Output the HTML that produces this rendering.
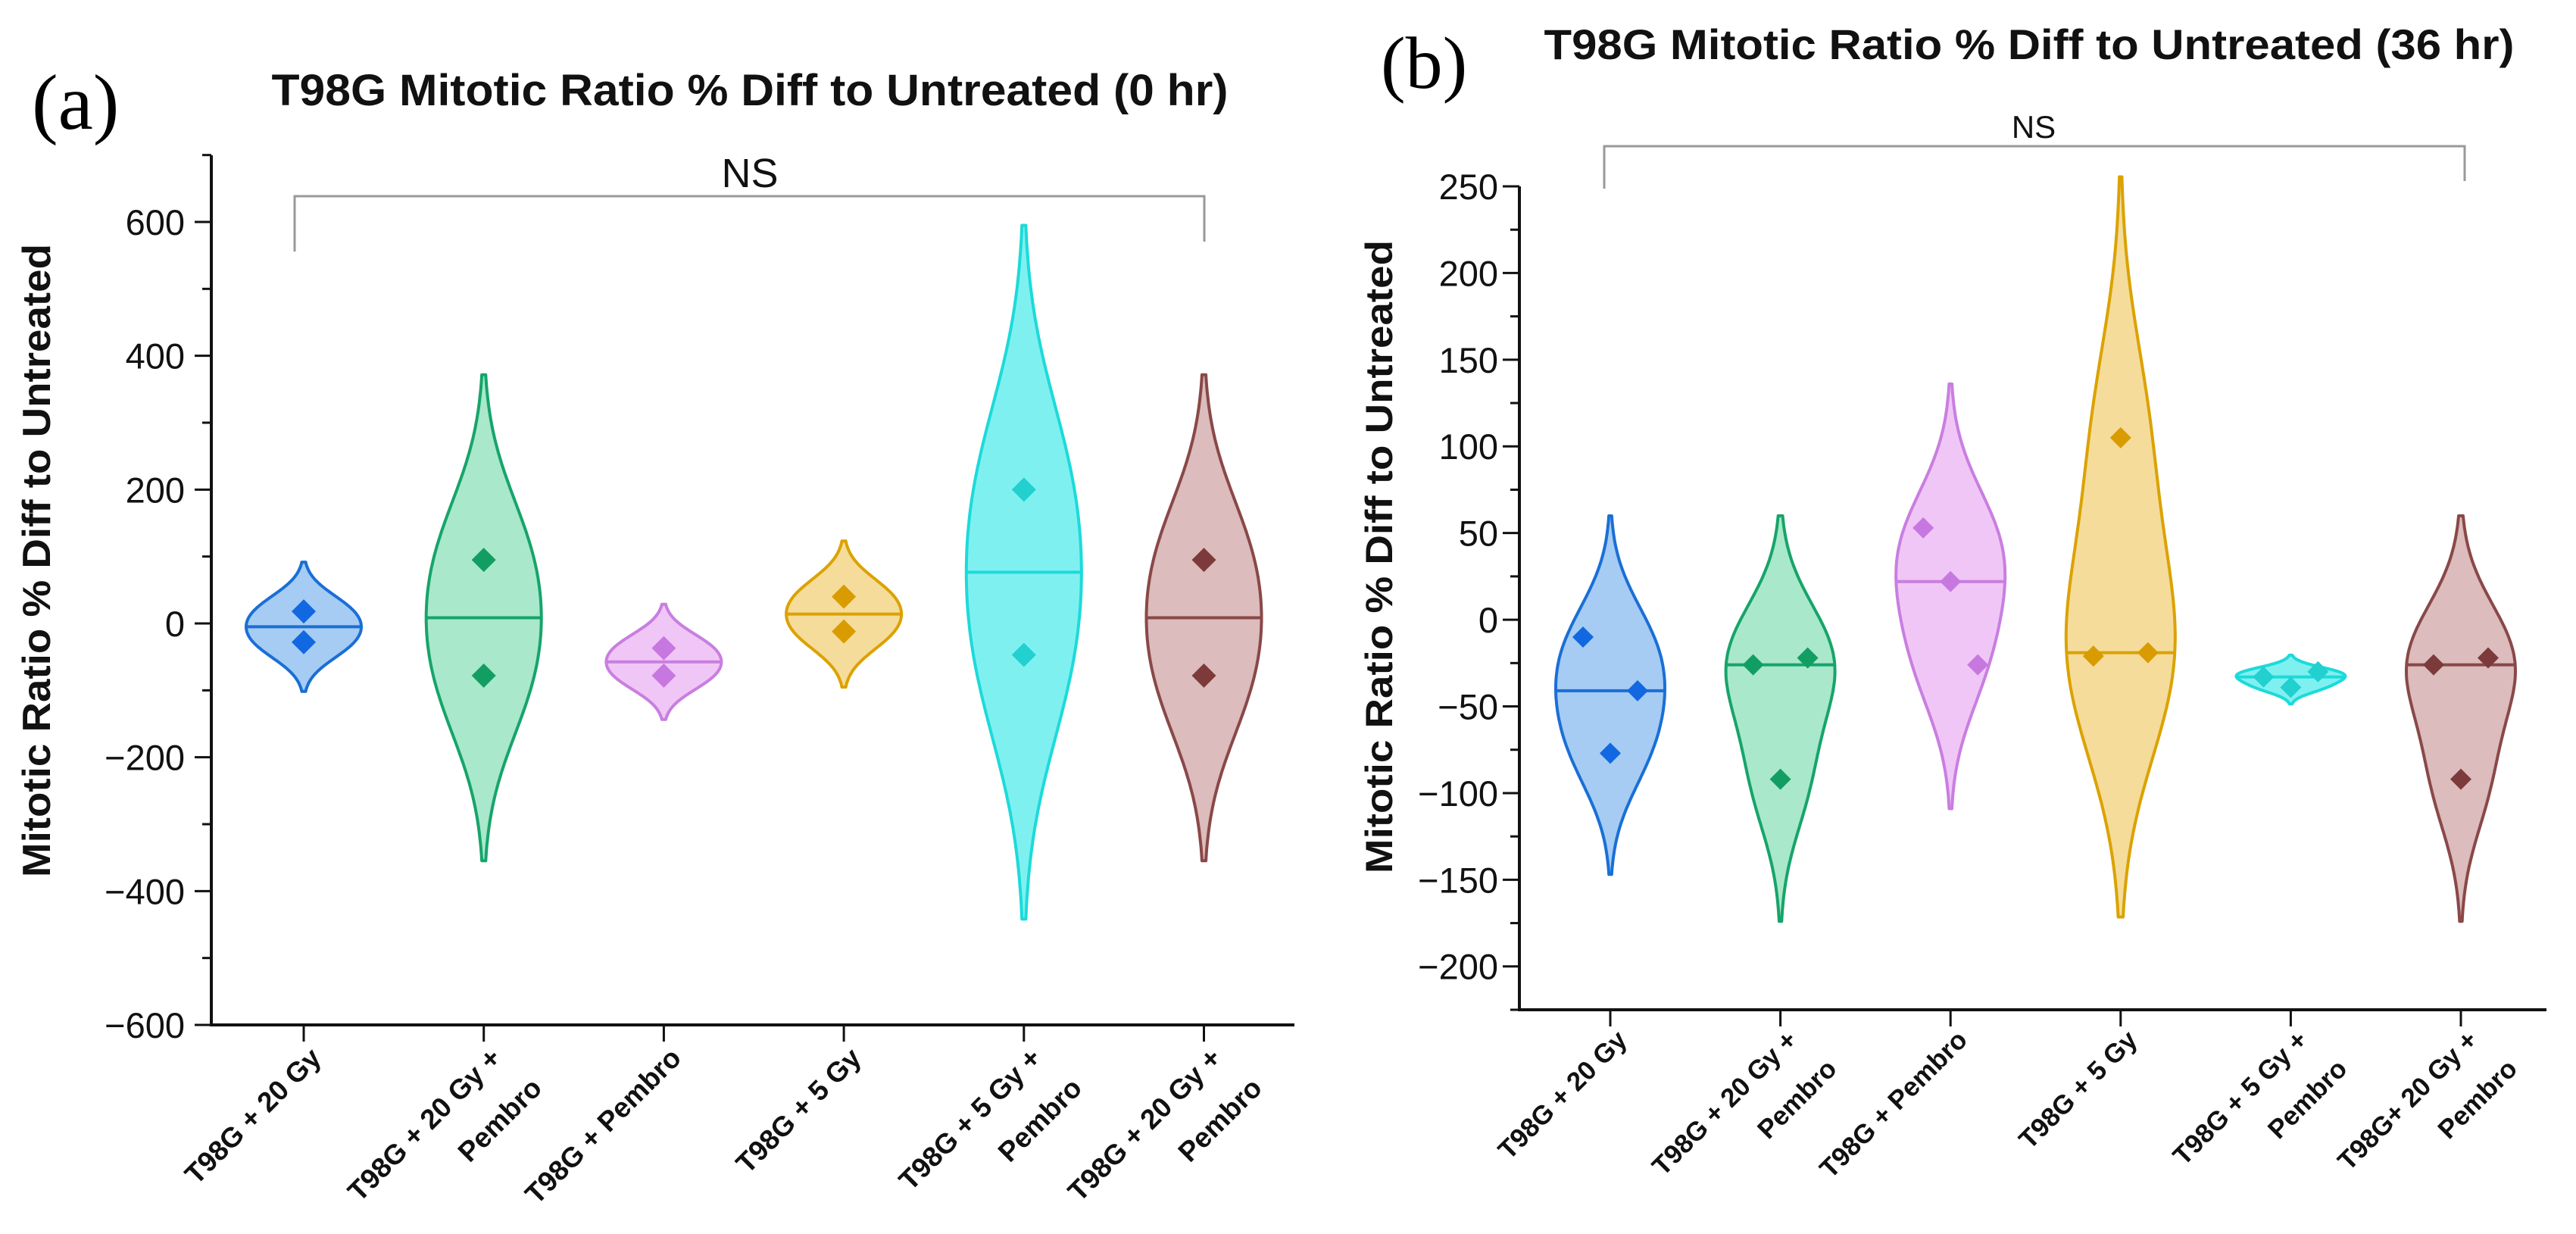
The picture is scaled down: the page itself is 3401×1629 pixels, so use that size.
<!DOCTYPE html>
<html><head><meta charset="utf-8"><style>
html,body{margin:0;padding:0;background:#fff;}
svg{display:block;font-family:"Liberation Sans",Arial,sans-serif;}
</style></head><body>
<svg id="chart" width="3401" height="1629" viewBox="0 0 3401 1629" xmlns="http://www.w3.org/2000/svg">
<rect width="3401" height="1629" fill="#fff"/>
<g id="pa"></g>
<g id="pb"></g>
</svg>
<script>
const categoriesA = [["T98G + 20 Gy"],["T98G + 20 Gy +","Pembro"],["T98G + Pembro"],["T98G + 5 Gy"],["T98G + 5 Gy +","Pembro"],["T98G + 20 Gy +","Pembro"]];
const categoriesB = [["T98G + 20 Gy"],["T98G + 20 Gy +","Pembro"],["T98G + Pembro"],["T98G + 5 Gy"],["T98G + 5 Gy +","Pembro"],["T98G+ 20 Gy +","Pembro"]];
const pointsA = [[18,-28],[95,-78],[-37,-78],[40,-12],[200,-47],[95,-78]];
const pointsB = [[-10,-77,-41],[-26,-92,-22],[53,22,-26],[-21,105,-19],[-33,-39,-30],[-26,-92,-22]];
const ticksA = [600,400,200,0,-200,-400,-600];
const ticksB = [250,200,150,100,50,0,-50,-100,-150,-200];
const strokeCols = ["#1a6fd6","#17a46a","#c97ee0","#dba200","#1cdada","#8a4848"];
const fillCols = ["#a6ccf4","#a9e8cb","#f0c6f6","#f5dc9b","#7ff0f0","#dcbcbc"];
const markCols = ["#1168e0","#129e62","#c778e0","#d99c00","#22d0d0","#7c3a3a"];
const NS="http://www.w3.org/2000/svg";
function mk(parent,tag,attrs,text){const e=document.createElementNS(NS,tag);for(const k in attrs)e.setAttribute(k,attrs[k]);if(text!==undefined)e.textContent=text;parent.appendChild(e);return e;}

function panel(g,cfg){
  const yS=v=>cfg.y0+(v-cfg.vTop)*(cfg.y1-cfg.y0)/(cfg.vBot-cfg.vTop);
  const xS=i=>cfg.cx0+i*cfg.step;
  const t=mk(g,'text',{x:cfg.titleX,y:cfg.titleY,'text-anchor':'middle','font-size':cfg.titleFs,'font-weight':'bold',fill:'#111',textLength:cfg.titleLen,lengthAdjust:'spacingAndGlyphs'},cfg.title);
  
  const pl=mk(g,'text',{x:cfg.lblX,y:cfg.lblY,'font-size':cfg.lblFs,'font-family':'Liberation Serif,serif',fill:'#000'},cfg.lbl);
  
  const yl=mk(g,'text',{x:0,y:0,transform:`translate(${cfg.ylX},${cfg.ylY}) rotate(-90)`,'text-anchor':'middle','font-size':cfg.ylFs,'font-weight':'bold',fill:'#111',textLength:836,lengthAdjust:'spacingAndGlyphs'},'Mitotic Ratio % Diff to Untreated');
  
  const ax=mk(g,'g',{});
  mk(ax,'line',{x1:cfg.ax,y1:cfg.axTop,x2:cfg.ax,y2:cfg.y1+2,stroke:'#111','stroke-width':4});
  mk(ax,'line',{x1:cfg.ax-2,y1:cfg.y1,x2:cfg.axRight,y2:cfg.y1,stroke:'#111','stroke-width':4});
  for(let v=cfg.vBot;v<=cfg.axTopV+0.001;v+=cfg.minor){
    const major=cfg.ticks.includes(Math.round(v));
    mk(ax,'line',{x1:cfg.ax-(major?22:12),y1:yS(v),x2:cfg.ax,y2:yS(v),stroke:'#111','stroke-width':3});
  }
  cfg.ticks.forEach(v=>{
    const tl=mk(g,'text',{x:cfg.tickR,y:yS(v)+cfg.tickFs*0.36,'text-anchor':'end','font-size':cfg.tickFs,fill:'#111'},String(v).replace('-','\u2212'));
    
  });
  cfg.cats.forEach((c,i)=>{
    const x=xS(i);
    mk(ax,'line',{x1:x,y1:cfg.y1,x2:x,y2:cfg.y1+22,stroke:'#111','stroke-width':3});
    const lg=mk(g,'g',{transform:`translate(${x+cfg.xlOff},${cfg.y1+cfg.xlDy}) rotate(-45)`});
    
    c.forEach((line,j)=>mk(lg,'text',{x:j*10,y:j*cfg.xlGap,'text-anchor':'end','font-size':cfg.xlFs,'font-weight':'bold',fill:'#111'},line));
  });
  const br=mk(g,'g',{});
  mk(br,'path',{d:`M${cfg.brX0},${cfg.brL} V${cfg.brY} H${cfg.brX1} V${cfg.brR}`,fill:'none',stroke:'#999','stroke-width':3});
  mk(br,'text',{x:cfg.nsX,y:cfg.nsY,'text-anchor':'middle','font-size':cfg.nsFs,fill:'#111'},'NS');
  cfg.pts.forEach((pts,i)=>{
    const n=pts.length, mean=pts.reduce((a,b)=>a+b,0)/n;
    const sd=Math.sqrt(pts.reduce((a,b)=>a+(b-mean)*(b-mean),0)/(n-1));
    const bw=1.06*sd*Math.pow(n,-0.2);
    const lo=Math.min(...pts)-2.45*bw, hi=Math.max(...pts)+2.45*bw;
    const dens=v=>pts.reduce((a,p)=>a+Math.exp(-0.5*((v-p)/bw)**2),0);
    const N=120;let samples=[];let mx=0;
    for(let k=0;k<=N;k++){const v=lo+(hi-lo)*k/N;const d=dens(v);samples.push([v,d]);if(d>mx)mx=d;}
    const cx=xS(i);
    let right=samples.map(([v,d])=>`${(cx+d/mx*cfg.halfW).toFixed(1)},${yS(v).toFixed(1)}`);
    let left=samples.slice().reverse().map(([v,d])=>`${(cx-d/mx*cfg.halfW).toFixed(1)},${yS(v).toFixed(1)}`);
    const vg=mk(g,'g',{});
    mk(vg,'path',{d:'M'+right.join(' L')+' L'+left.join(' L')+'Z',fill:fillCols[i],stroke:strokeCols[i],'stroke-width':4,'stroke-linejoin':'round'});
    const s=pts.slice().sort((a,b)=>a-b);
    const med=n%2?s[(n-1)/2]:(s[n/2-1]+s[n/2])/2;
    const w=dens(med)/mx*cfg.halfW;
    const ml=mk(vg,'line',{x1:cx-w,y1:yS(med),x2:cx+w,y2:yS(med),stroke:strokeCols[i],'stroke-width':4});
    
    pts.forEach((p,j)=>{
      const ox=n===3?[-1,0,1][j]*cfg.jit:0;
      const px=cx+ox, py=yS(p), r=cfg.mr;
      const d=mk(vg,'path',{d:`M${px},${py-r} L${px+r},${py} L${px},${py+r} L${px-r},${py}Z`,fill:markCols[i]});
      
    });
  });
}
panel(document.getElementById('pa'),{
  title:'T98G Mitotic Ratio % Diff to Untreated (0 hr)',titleX:990,titleY:139,titleFs:58,titleLen:1263,
  lbl:'(a)',lblX:42,lblY:170,lblFs:104,ylX:66,ylY:740,ylFs:52,
  vTop:600,vBot:-600,y0:293,y1:1353,axTop:205,axTopV:700,ax:279,axRight:1709,minor:100,
  ticks:ticksA,tickR:244,tickFs:47,cats:categoriesA,cx0:401,step:237.7,
  xlOff:25,xlDy:46,xlGap:66,xlFs:37,brX0:389,brX1:1590,brY:259,brL:332,brR:319,nsX:990,nsY:247,nsFs:54,
  pts:pointsA,halfW:76,jit:36,mr:16
});
panel(document.getElementById('pb'),{
  title:'T98G Mitotic Ratio % Diff to Untreated (36 hr)',titleX:2679,titleY:78,titleFs:56,titleLen:1281,
  lbl:'(b)',lblX:1823,lblY:116,lblFs:98,ylX:1838,ylY:735,ylFs:50,
  vTop:250,vBot:-225,y0:246,y1:1333,axTop:246,axTopV:250,ax:2006,axRight:3362,minor:25,
  ticks:ticksB,tickR:1978,tickFs:47,cats:categoriesB,cx0:2126,step:224.6,
  xlOff:24,xlDy:42,xlGap:64,xlFs:35,brX0:2118,brX1:3254,brY:193,brL:249,brR:239,nsX:2685,nsY:182,nsFs:42,
  pts:pointsB,halfW:72,jit:36,mr:14
});
</script>
</body></html>
